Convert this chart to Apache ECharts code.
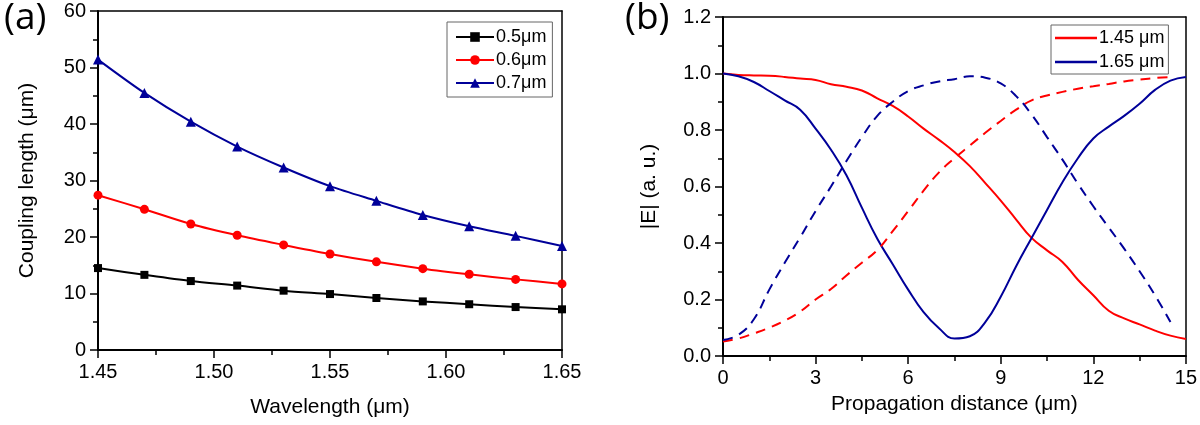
<!DOCTYPE html>
<html><head><meta charset="utf-8">
<script src="https://cdn.jsdelivr.net/npm/echarts@6/dist/echarts.min.js"></script>
<style>html,body{margin:0;padding:0;background:#fff}#c{width:1200px;height:425px}</style>
</head><body><div id="c"></div>
<script>
// ---- Panel (a): coupling length vs wavelength ----
const wavelengths = [1.45, 1.47, 1.49, 1.51, 1.53, 1.55, 1.57, 1.59, 1.61, 1.63, 1.65];
const width05 = [14.5, 13.3, 12.2, 11.4, 10.5, 9.9, 9.2, 8.6, 8.1, 7.6, 7.2];
const width06 = [27.4, 24.9, 22.3, 20.3, 18.6, 17.0, 15.6, 14.4, 13.4, 12.5, 11.7];
const width07 = [51.4, 45.5, 40.4, 36.0, 32.3, 29.0, 26.4, 23.9, 21.9, 20.2, 18.4];
const legendA = ['0.5μm', '0.6μm', '0.7μm'];

// ---- Panel (b): |E| vs propagation distance ----
const distance = [0,0.5,1,1.5,2,2.5,3,3.5,4,4.5,5,5.5,6,6.5,7,7.5,8,8.5,9,9.5,10,10.5,11,11.5,12,12.5,13,13.5,14,14.5,15];
const e145Solid = [1.0,0.995,0.993,0.992,0.988,0.982,0.977,0.962,0.953,0.94,0.912,0.885,0.848,0.805,0.765,0.722,0.672,0.612,0.55,0.483,0.418,0.374,0.333,0.27,0.215,0.16,0.133,0.112,0.09,0.072,0.06];
const e165Solid = [1.0,0.99,0.97,0.938,0.905,0.872,0.805,0.73,0.64,0.525,0.415,0.325,0.235,0.155,0.098,0.062,0.07,0.12,0.21,0.318,0.418,0.517,0.615,0.70,0.77,0.812,0.85,0.893,0.942,0.975,0.988];
const e145Dashed = [0.051,0.062,0.08,0.1,0.125,0.157,0.2,0.237,0.285,0.33,0.375,0.442,0.513,0.585,0.65,0.70,0.745,0.79,0.832,0.872,0.905,0.922,0.935,0.946,0.955,0.963,0.972,0.978,0.984,0.987];
const e165Dashed = [0.057,0.075,0.13,0.235,0.33,0.42,0.513,0.60,0.69,0.775,0.85,0.90,0.938,0.958,0.972,0.98,0.99,0.985,0.965,0.92,0.855,0.775,0.695,0.61,0.53,0.455,0.38,0.30,0.215,0.12];
const legendB = ['1.45 μm', '1.65 μm'];

const FONT = 'Liberation Sans, Arial, sans-serif';
const RED = '#ff0000', BLUE = '#000099', BLACK = '#000000';

function pairs(xs, ys) { return ys.map((y, i) => [xs[i], y]); }

function axisCommon(extra) {
  return Object.assign({
    type: 'value',
    axisLine: { show: true, onZero: false, lineStyle: { color: '#000', width: 2 } },
    axisTick: { show: true, inside: false, length: 8, lineStyle: { color: '#000', width: 1.5 } },
    minorTick: { show: true, splitNumber: 2, length: 5, lineStyle: { color: '#000', width: 1.5 } },
    splitLine: { show: false },
    axisLabel: { color: '#000', fontSize: 20, fontFamily: FONT, margin: 12 },
    nameLocation: 'middle',
    nameTextStyle: { color: '#000', fontSize: 21, fontFamily: FONT }
  }, extra);
}
function frameAxis(gridIndex, pos) {
  return {
    type: 'value', gridIndex: gridIndex, position: pos,
    axisLine: { show: true, onZero: false, lineStyle: { color: '#000', width: 1.5 } },
    axisTick: { show: false }, axisLabel: { show: false }, splitLine: { show: false }
  };
}

const chart = echarts.init(document.getElementById('c'), null, { renderer: 'canvas' });
chart.setOption({
  backgroundColor: '#fff',
  animation: false,
  title: [
    { text: '(a)', left: -1, top: -5, textStyle: { fontSize: 37, fontWeight: 'normal', fontFamily: 'Open Sans, ' + FONT, color: '#000' } },
    { text: '(b)', left: 620, top: -5, textStyle: { fontSize: 37, fontWeight: 'normal', fontFamily: 'Open Sans, ' + FONT, color: '#000' } }
  ],
  grid: [
    { left: 98, top: 11, width: 464, height: 339 },
    { left: 723, top: 17, width: 464, height: 339 }
  ],
  xAxis: [
    axisCommon({ gridIndex: 0, min: 1.45, max: 1.65, interval: 0.05, name: 'Wavelength (μm)', nameGap: 47,
      axisLabel: { color: '#000', fontSize: 20, fontFamily: FONT, margin: 12, formatter: v => v.toFixed(2) } }),
    axisCommon({ gridIndex: 1, min: 0, max: 15, interval: 3, name: 'Propagation distance (μm)', nameGap: 38 }),
    frameAxis(0, 'top'),
    frameAxis(1, 'top')
  ],
  yAxis: [
    axisCommon({ gridIndex: 0, min: 0, max: 60, interval: 10, name: 'Coupling length (μm)', nameGap: 60 }),
    axisCommon({ gridIndex: 1, min: 0, max: 1.2, interval: 0.2, name: '|E| (a. u.)', nameGap: 63,
      axisLabel: { color: '#000', fontSize: 20, fontFamily: FONT, margin: 12, formatter: v => v.toFixed(1) } }),
    frameAxis(0, 'right'),
    frameAxis(1, 'right')
  ],
  legend: [
    {
      data: legendA, orient: 'vertical', left: 447, top: 22,
      itemWidth: 38, itemHeight: 12, itemGap: 5, padding: [6, 6, 5, 8],
      borderColor: '#666', borderWidth: 1, backgroundColor: '#fff',
      textStyle: { fontSize: 18, fontFamily: FONT, color: '#000', padding: [0, 0, 0, -3] }
    },
    {
      data: legendB.map(n => ({ name: n, icon: 'rect' })), orient: 'vertical', left: 1051, top: 25,
      itemWidth: 42, itemHeight: 2.5, itemGap: 6, padding: [4, 4, 3, 4],
      borderColor: '#666', borderWidth: 1, backgroundColor: '#fff',
      textStyle: { fontSize: 18, fontFamily: FONT, color: '#000', padding: [0, 0, 0, -3] }
    }
  ],
  series: [
    { name: legendA[0], type: 'line', xAxisIndex: 0, yAxisIndex: 0, data: pairs(wavelengths, width05),
      smooth: 0.3, symbol: 'rect', symbolSize: 8, itemStyle: { color: BLACK }, lineStyle: { color: BLACK, width: 2 } },
    { name: legendA[1], type: 'line', xAxisIndex: 0, yAxisIndex: 0, data: pairs(wavelengths, width06),
      smooth: 0.3, symbol: 'circle', symbolSize: 9, itemStyle: { color: RED }, lineStyle: { color: RED, width: 2 } },
    { name: legendA[2], type: 'line', xAxisIndex: 0, yAxisIndex: 0, data: pairs(wavelengths, width07),
      smooth: 0.3, symbol: 'triangle', symbolSize: 10, itemStyle: { color: BLUE }, lineStyle: { color: BLUE, width: 2 } },

    { name: legendB[0], type: 'line', xAxisIndex: 1, yAxisIndex: 1, data: pairs(distance, e145Solid),
      smooth: 0.45, showSymbol: false, symbol: 'none', itemStyle: { color: RED }, lineStyle: { color: RED, width: 2 } },
    { name: legendB[1], type: 'line', xAxisIndex: 1, yAxisIndex: 1, data: pairs(distance, e165Solid),
      smooth: 0.45, showSymbol: false, symbol: 'none', itemStyle: { color: BLUE }, lineStyle: { color: BLUE, width: 2 } },
    { name: '1.45 μm (dashed)', type: 'line', xAxisIndex: 1, yAxisIndex: 1, data: pairs(distance, e145Dashed),
      smooth: 0.45, showSymbol: false, symbol: 'none', itemStyle: { color: RED }, lineStyle: { color: RED, width: 2, type: [10, 7] } },
    { name: '1.65 μm (dashed)', type: 'line', xAxisIndex: 1, yAxisIndex: 1, data: pairs(distance, e165Dashed),
      smooth: 0.45, showSymbol: false, symbol: 'none', itemStyle: { color: BLUE }, lineStyle: { color: BLUE, width: 2, type: [10, 7] } }
  ]
});
</script>
</body></html>
